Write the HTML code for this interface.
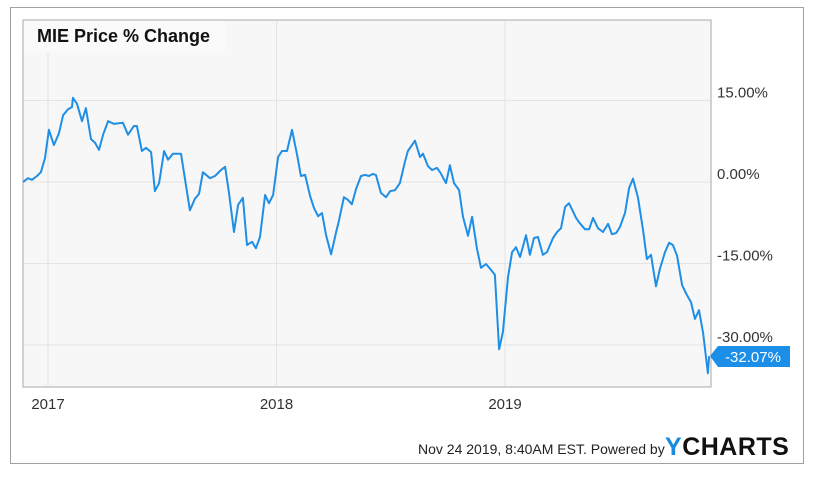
<!DOCTYPE html>
<html><head><meta charset="utf-8"><style>
body{margin:0;background:#fff;font-family:"Liberation Sans",Arial,sans-serif}
svg{display:block}
</style></head><body>
<svg width="822" height="487">
<rect x="10.5" y="7.5" width="793" height="456" fill="#fff" stroke="#a0a0a0"/>
<rect x="23" y="20" width="688" height="367" fill="#f7f7f7" stroke="#aaa"/>
<g id="grid"></g>
<rect x="23.5" y="20.5" width="202" height="32" fill="#fafafa"/>
<text x="37" y="42" font-size="18" font-weight="bold" fill="#111">MIE Price % Change</text>
<g id="yl"></g>
<g id="xl"></g>
<path id="line" fill="none" stroke="#1f8fe6" stroke-width="2" stroke-linejoin="round"/>
<g>
<polygon points="710,356 718,346 790,346 790,367 718,367" fill="#1b8ee8"/>
<text x="753" y="362" font-size="15" fill="#fff" text-anchor="middle">-32.07%</text>
</g>
<text x="418" y="454" font-size="14" fill="#222">Nov 24 2019, 8:40AM EST.  Powered by</text>
<text x="665" y="455" font-size="25" font-weight="bold" fill="#111" letter-spacing="0.5"><tspan fill="#1a8be0">Y</tspan>CHARTS</text>
</svg>
<script>
const t=[2016.891,2016.912,2016.930,2016.952,2016.969,2016.987,2017.004,2017.026,2017.048,2017.066,
2017.088,2017.105,2017.109,2017.127,2017.149,2017.166,2017.188,2017.206,2017.223,2017.241,
2017.263,2017.289,2017.328,2017.350,2017.376,2017.389,2017.411,2017.429,2017.451,2017.468,
2017.486,2017.508,2017.525,2017.547,2017.582,2017.621,2017.643,2017.661,2017.678,2017.709,
2017.731,2017.757,2017.775,2017.792,2017.814,2017.832,2017.853,2017.871,2017.893,2017.910,
2017.928,2017.950,2017.967,2017.985,2018.007,2018.024,2018.046,2018.068,2018.090,2018.107,
2018.125,2018.147,2018.164,2018.182,2018.199,2018.217,2018.239,2018.260,2018.274,2018.295,
2018.313,2018.330,2018.348,2018.370,2018.387,2018.405,2018.422,2018.435,2018.457,2018.479,
2018.497,2018.519,2018.540,2018.562,2018.575,2018.606,2018.628,2018.641,2018.663,2018.681,
2018.702,2018.716,2018.742,2018.759,2018.777,2018.799,2018.816,2018.838,2018.856,2018.877,
2018.895,2018.917,2018.939,2018.956,2018.974,2018.991,2019.013,2019.031,2019.048,2019.066,
2019.092,2019.109,2019.127,2019.144,2019.166,2019.184,2019.210,2019.228,2019.245,2019.263,
2019.280,2019.311,2019.324,2019.350,2019.368,2019.385,2019.407,2019.429,2019.451,2019.468,
2019.486,2019.503,2019.525,2019.543,2019.560,2019.582,2019.604,2019.621,2019.639,2019.661,
2019.678,2019.700,2019.718,2019.735,2019.753,2019.775,2019.796,2019.814,2019.831,2019.849,
2019.867,2019.888,2019.893];
const values=[0,0.7,0.4,1.1,1.8,4.4,9.6,6.8,9.0,12.3,
13.4,13.8,15.5,14.4,11.2,13.6,7.9,7.2,5.9,8.7,
11.2,10.7,10.9,8.7,10.3,10.3,5.7,6.3,5.5,-1.7,
-0.2,5.7,4.1,5.2,5.2,-5.2,-3.1,-2.2,1.8,0.7,
1.1,2.2,2.8,-2.0,-9.2,-4.2,-2.9,-11.6,-11.0,-12.2,
-10.1,-2.4,-3.9,-2.4,4.6,5.7,5.7,9.6,5.0,1.1,
1.3,-2.6,-4.8,-6.3,-5.7,-9.8,-13.3,-9.4,-7.0,-2.8,
-3.3,-4.1,-1.3,1.1,1.3,1.1,1.5,1.3,-2.0,-2.8,
-1.7,-1.5,-0.2,3.7,5.7,7.6,4.6,5.2,2.9,2.2,
2.6,1.8,-0.2,3.1,-0.2,-1.5,-6.4,-9.9,-6.4,-12.2,
-15.8,-15.1,-16.2,-17.1,-30.8,-27.6,-17.5,-12.9,-12.0,-13.8,
-9.8,-13.4,-10.3,-10.1,-13.4,-12.9,-10.3,-9.2,-8.5,-4.6,
-3.9,-6.6,-7.4,-8.7,-8.7,-6.6,-8.5,-9.2,-7.7,-9.6,
-9.4,-8.3,-5.7,-1.1,0.6,-2.9,-8.8,-14.2,-13.4,-19.2,
-16.0,-12.9,-11.2,-11.6,-13.6,-19.0,-20.8,-22.1,-25.2,-23.6,
-27.8,-35.2,-32.07];
const yTicks=[15,0,-15,-30];
const yTickLabels=["15.00%","0.00%","-15.00%","-30.00%"];
const xTicks=[2017,2018,2019];
const xTickLabels=["2017","2018","2019"];

const NS="http://www.w3.org/2000/svg";
function xs(v){return 48+(v-2017)*228.5;}
function ys(v){return 182-v*5.433;}
const grid=document.getElementById('grid'),yl=document.getElementById('yl'),xl=document.getElementById('xl');
yTicks.forEach((v,i)=>{
  const l=document.createElementNS(NS,'line');
  
  
  l.setAttribute('x1',24);l.setAttribute('x2',710);l.setAttribute('y1',ys(v));l.setAttribute('y2',ys(v));
  l.setAttribute('stroke','#e3e3e3');grid.appendChild(l);
  const tx=document.createElementNS(NS,'text');
  
  
  tx.setAttribute('x',717);tx.setAttribute('y',ys(v)-3);tx.setAttribute('font-size','15');tx.setAttribute('fill','#333');
  tx.textContent=yTickLabels[i];yl.appendChild(tx);
});
xTicks.forEach((v,i)=>{
  const l=document.createElementNS(NS,'line');
  
  
  l.setAttribute('x1',xs(v));l.setAttribute('x2',xs(v));l.setAttribute('y1',21);l.setAttribute('y2',386);
  l.setAttribute('stroke','#e3e3e3');grid.appendChild(l);
  const tx=document.createElementNS(NS,'text');
  
  
  tx.setAttribute('x',xs(v));tx.setAttribute('y',409);tx.setAttribute('font-size','15');tx.setAttribute('fill','#333');
  tx.setAttribute('text-anchor','middle');
  tx.textContent=xTickLabels[i];xl.appendChild(tx);
});
document.getElementById('line').setAttribute('d',t.map((v,i)=>(i?'L':'M')+xs(v).toFixed(1)+','+ys(values[i]).toFixed(1)).join(''));
</script>
</body></html>
